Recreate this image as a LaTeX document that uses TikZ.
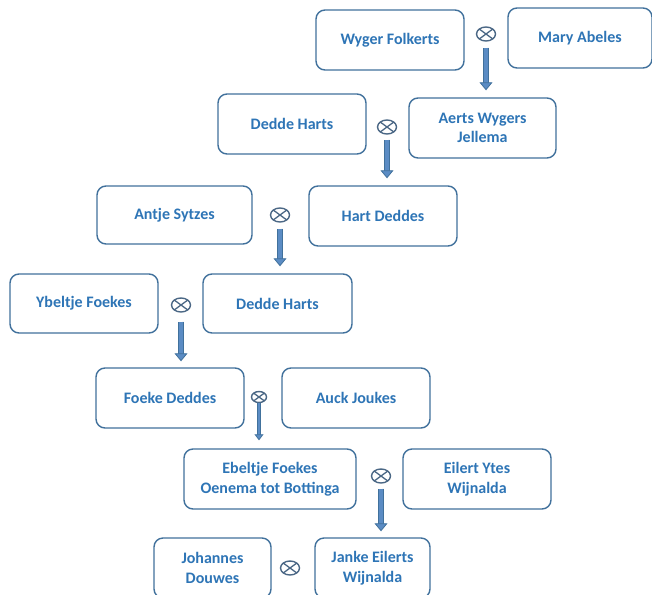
\documentclass[tikz,border=0pt]{standalone}
\usepackage{fontspec}
\setmainfont{Carlito}
\usetikzlibrary{arrows.meta,shapes.geometric,calc}
\definecolor{boxline}{HTML}{41719C}
\definecolor{txt}{HTML}{2E75B6}
\definecolor{arrfill}{HTML}{5B8CC4}
\definecolor{arrline}{HTML}{41719C}
\definecolor{marr}{HTML}{4A6785}
\tikzset{
  person/.style={draw=boxline, line width=1.4pt, rounded corners=9pt, minimum width=148pt, minimum height=60pt,
    align=center, text=txt, font=\fontsize{16}{19.5}\selectfont\bfseries, inner sep=2pt},
  marriage/.style={ellipse, draw=marr, line width=1.4pt, minimum width=19pt, minimum height=14pt, inner sep=0pt,
    path picture={\draw[marr, line width=1.3pt]
      ($(path picture bounding box.center)!0.707!(path picture bounding box.north east)$) --
      ($(path picture bounding box.center)!0.707!(path picture bounding box.south west)$)
      ($(path picture bounding box.center)!0.707!(path picture bounding box.north west)$) --
      ($(path picture bounding box.center)!0.707!(path picture bounding box.south east)$);}},
  descent/.style={draw=arrline, line width=0.8pt, double=arrfill, double distance=4pt,
    -{Triangle[width=13pt,length=8pt,fill=arrfill,line width=0.8pt]}},
}
\begin{document}
\begin{tikzpicture}[x=1pt,y=-1pt]
\useasboundingbox (0,0) rectangle (652,594);
\clip (0,0) rectangle (652,594);
\fill[white] (0,0) rectangle (652,594);
% generation 1
\node[person] (b1) at (390,40) {Wyger Folkerts};
\node[person, minimum width=144pt] (b2) at (580,38) {Mary Abeles};
\node[marriage] (m1) at (486,34) {};
% generation 2
\node[person] (b3) at (292,124) {Dedde Harts};
\node[person, minimum width=147pt] (b4) at (482.5,128) {Aerts Wygers\\Jellema};
\node[marriage] (m2) at (387,127) {};
% generation 3
\node[person, minimum width=155pt, minimum height=58pt] (b5) at (174.5,215) {Antje Sytzes};
\node[person] (b6) at (383,216) {Hart Deddes};
\node[marriage] (m3) at (280,215) {};
% generation 4
\node[person, minimum height=59pt] (b7) at (84,303.5) {Ybeltje Foekes};
\node[person, minimum width=149pt, minimum height=59pt] (b8) at (277.5,303.5) {Dedde Harts};
\node[marriage] (m4) at (181,305) {};
% generation 5
\node[person] (b9) at (170,398) {Foeke Deddes};
\node[person] (b10) at (356,398) {Auck Joukes};
\node[marriage, minimum width=15pt, minimum height=11pt] (m5) at (259,397) {};
% generation 6
\node[person, minimum width=172pt] (b11) at (270,479) {Ebeltje Foekes\\Oenema tot Bottinga};
\node[person] (b12) at (477,479) {Eilert Ytes\\Wijnalda};
\node[marriage] (m6) at (381,476) {};
% generation 7
\node[person, minimum width=117pt] (b13) at (212.5,568) {Johannes\\Douwes};
\node[person, minimum width=115pt] (b14) at (372.5,568) {Janke Eilerts\\Wijnalda};
\node[marriage] (m7) at (290,568) {};
% descent arrows
\draw[descent, shorten <=6pt, shorten >=7pt] (m1.south) -- (m1.south |- b4.north);
\draw[descent, shorten <=5pt, shorten >=7pt] (m2.south) -- (m2.south |- b6.north);
\draw[descent, shorten <=6pt, shorten >=7pt] (m3.south) -- (m3.south |- b8.north);
\draw[descent, shorten <=9pt, shorten >=6pt] (m4.south) -- (m4.south |- b9.north);
\draw[descent, double distance=2.5pt, -{Triangle[width=9pt,length=6pt,fill=arrfill,line width=0.8pt]}, shorten <=0pt, shorten >=8pt] (m5.south) -- (m5.south |- b11.north);
\draw[descent, shorten <=5pt, shorten >=6pt] (m6.south) -- (m6.south |- b14.north);
\end{tikzpicture}
\end{document}
